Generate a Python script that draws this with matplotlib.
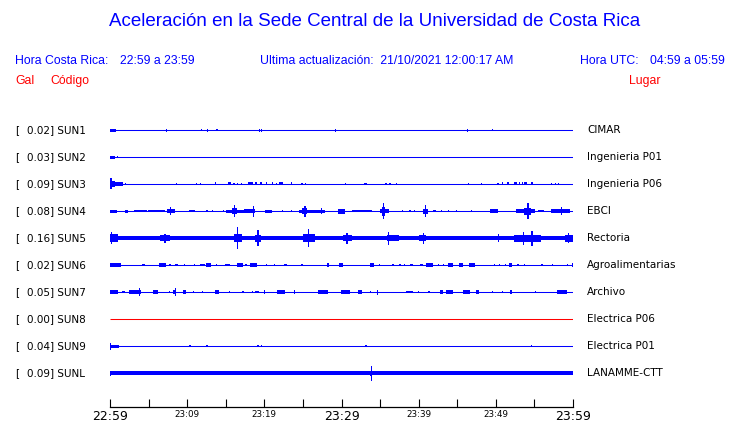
import matplotlib
matplotlib.use("Agg")
import matplotlib.pyplot as plt

# estaciones de la red de acelerografos (de arriba hacia abajo)
codes = ["SUN1", "SUN2", "SUN3", "SUN4", "SUN5", "SUN6", "SUN7", "SUN8", "SUN9", "SUNL"]
gal = ["0.02", "0.03", "0.09", "0.08", "0.16", "0.02", "0.05", "0.00", "0.04", "0.09"]
places = ["CIMAR", "Ingenieria P01", "Ingenieria P06", "EBCI", "Rectoria",
          "Agroalimentarias", "Archivo", "Electrica P06", "Electrica P01", "LANAMME-CTT"]
trace_colors = ["blue"] * 7 + ["red"] + ["blue"] * 2

# ancho del ruido de fondo (media amplitud, px) por estacion
base_noise = [0, 0, 0, 0.3, 1.6, 0, 0, 0, 0, 1.8]

sun1 = [(0, 0.8, 1.5), (7.2, 7.2, 1.5), (11.8, 11.8, 1), (12.6, 12.6, 1.5), (13.8, 13.8, 1),
        (19.3, 19.3, 1.5), (19.6, 19.6, 1.5), (29.2, 29.2, 1.5), (46.3, 46.3, 1.5), (49.5, 49.5, 1)]
sun2 = [(0, 0.7, 1.5), (0.9, 0.9, 1)]
sun3 = [(0, 0.2, 5.5), (0.2, 0.6, 3), (0.6, 1.7, 1.8), (1.9, 1.9, 1), (8.5, 8.5, 1),
        (11.1, 11.1, 1), (11.6, 11.6, 1), (13.6, 13.6, 1.5), (15.3, 15.7, 1.5), (16.0, 16.0, 1),
        (16.5, 16.5, 1), (17.0, 17.0, 1), (17.9, 18.5, 1.5), (18.8, 19.1, 1.5), (19.5, 19.5, 1.5),
        (20.2, 20.2, 1.5), (21.0, 21.0, 1.5), (21.5, 21.5, 1), (21.9, 22.4, 1.5), (23.5, 23.5, 1.5),
        (24.8, 24.8, 1), (25.3, 25.3, 1), (30.4, 30.4, 1), (32.9, 32.9, 1), (33.1, 33.1, 1),
        (35.7, 35.7, 1), (36.2, 36.2, 1), (37.0, 37.0, 1), (46.4, 46.4, 1), (48.1, 48.1, 1),
        (50.2, 50.2, 1), (50.8, 50.8, 1.5), (51.4, 51.7, 1.5), (52.4, 52.7, 1.5), (53.0, 53.0, 1.5),
        (53.4, 53.4, 1.5), (53.7, 54.1, 1.5), (54.6, 54.8, 1.5), (57.1, 57.1, 1), (57.7, 57.7, 1),
        (58.0, 58.0, 1)]
sun4 = [(0, 0.9, 1.5), (1.9, 2.3, 1.5), (3.1, 4.8, 1.3), (4.9, 7.1, 1.2), (7.4, 8.4, 2),
        (7.8, 7.9, 4), (10.2, 11.0, 1.3), (12.5, 12.5, 1), (13.2, 13.2, 1), (14.6, 14.6, 1),
        (15.0, 18.0, 1.5), (15.8, 16.5, 3), (16.1, 16.2, 6), (17.4, 18.8, 2), (18.5, 18.7, 5.5),
        (20.1, 21.0, 1.5), (22.3, 22.3, 1), (23.4, 23.4, 1), (24.5, 27.8, 1.5), (24.9, 25.5, 3),
        (25.2, 25.3, 5.5), (27.3, 27.5, 3), (29.6, 30.5, 2.5), (31.3, 33.9, 1.3), (35.0, 36.1, 2),
        (35.3, 35.6, 4.5), (35.4, 35.5, 8), (37.8, 37.8, 1), (38.8, 38.8, 1), (39.4, 39.4, 1),
        (40.6, 41.2, 2.5), (40.8, 41.0, 6), (41.9, 42.2, 1.3), (42.9, 42.9, 1), (43.8, 43.8, 1),
        (44.8, 44.8, 1), (46.8, 46.8, 1), (49.2, 50.3, 1.8), (52.6, 55.1, 2), (53.6, 54.5, 3.5),
        (54.1, 54.2, 8), (55.4, 56.3, 1.3), (57.2, 59.6, 1.8), (58.4, 58.6, 4)]
sun5 = [(0, 1.1, 4), (0.1, 0.3, 6), (1.2, 6.5, 2), (6.5, 7.8, 3), (7.0, 7.2, 4.5),
        (12.0, 16.0, 2), (16.1, 17.1, 4), (16.4, 16.6, 11), (17.3, 18.5, 2.4), (18.8, 19.6, 3.5),
        (19.1, 19.2, 8), (20.0, 21.5, 2), (23.0, 24.8, 2), (25.0, 26.6, 4), (25.6, 25.8, 9),
        (28.0, 29.8, 2), (30.2, 31.3, 3), (30.6, 30.8, 5.5), (32.0, 35.5, 2), (35.9, 37.4, 3),
        (36.0, 36.2, 6.5), (38.0, 39.5, 2), (40.0, 41.0, 3), (40.5, 40.7, 5.5), (42.0, 45.5, 2),
        (47.0, 49.8, 2), (50.3, 50.4, 4), (51.0, 52.0, 2), (52.3, 55.9, 3.5), (53.5, 53.7, 6.5),
        (54.6, 54.8, 7.5), (56.0, 58.8, 2.4), (59.0, 60.0, 3.5), (59.3, 59.5, 5)]
sun6 = [(0, 1.4, 1.8), (4.1, 4.5, 1.3), (6.3, 7.2, 2), (7.7, 7.7, 1.3), (8.4, 8.8, 1.3),
        (9.6, 9.6, 1), (10.9, 10.9, 1), (11.6, 12.3, 1.3), (12.5, 13.1, 1.8), (13.7, 13.7, 1.3),
        (14.9, 15.5, 1.3), (16.4, 17.3, 1.8), (17.5, 17.8, 1.3), (18.2, 19.0, 2), (20.2, 20.2, 1.3),
        (21.2, 21.2, 1.3), (22.5, 23.0, 1.3), (24.7, 25.0, 1.3), (28.1, 28.4, 1.8), (29.7, 30.2, 1.8),
        (33.7, 34.2, 1.8), (34.8, 34.8, 1.3), (36.6, 36.6, 1.3), (37.5, 37.5, 1.3), (38.1, 38.1, 1.3),
        (38.9, 39.3, 1.3), (40.2, 40.5, 1.3), (41.0, 41.9, 1.8), (42.5, 42.5, 1.3), (43.1, 43.1, 1.3),
        (43.8, 44.4, 1.8), (45.2, 45.7, 1.8), (46.5, 47.3, 1.8), (49.7, 49.7, 1.3), (50.4, 50.4, 1.3),
        (51.2, 51.2, 1.3), (51.7, 52.1, 1.8), (52.8, 52.8, 1.3), (53.6, 53.6, 1.3), (55.9, 55.9, 1.3),
        (57.3, 57.3, 1.3), (59.2, 59.2, 1.3), (59.9, 60.0, 1.8)]
sun7 = [(0, 1.1, 2), (1.5, 1.9, 1.3), (2.4, 4.0, 2), (3.8, 3.9, 4), (5.6, 6.2, 1.8), (7.6, 7.6, 1.3),
        (8.2, 8.6, 2), (8.4, 8.5, 4), (9.5, 9.9, 1.8), (10.8, 10.8, 1.3), (11.9, 11.9, 1.3),
        (13.6, 14.1, 1.8), (15.4, 15.4, 1.3), (17.1, 17.4, 1.3), (18.4, 18.4, 1.3), (18.8, 19.3, 1.3),
        (20.0, 20.0, 2), (21.6, 22.7, 1.8), (23.8, 23.8, 1.8), (27.0, 28.2, 2), (29.9, 31.1, 1.8),
        (32.2, 32.7, 2), (33.7, 33.7, 1.3), (34.6, 34.6, 2.5), (38.4, 39.3, 1.3), (39.9, 39.9, 1.3),
        (41.2, 41.5, 1.3), (42.8, 43.2, 1.8), (43.6, 44.5, 1.8), (45.8, 46.6, 1.8), (47.4, 47.8, 1.8),
        (49.5, 49.5, 1.3), (50.8, 50.8, 1.3), (51.9, 51.9, 2), (55.1, 55.1, 1.3), (57.9, 59.2, 2)]
sun8 = []
sun9 = [(0, 1.2, 1.5), (0, 0.1, 3.5), (10.3, 10.3, 1), (12.5, 12.5, 1), (19.1, 19.1, 1),
        (19.6, 19.6, 1), (33.1, 33.1, 1), (54.5, 54.5, 1)]
sunl = [(0, 0.1, 2.5), (33.7, 33.9, 2.5), (33.8, 33.8, 7.5)]
events = [sun1, sun2, sun3, sun4, sun5, sun6, sun7, sun8, sun9, sunl]

tick_minutes = [0, 5, 10, 15, 20, 25, 30, 35, 40, 45, 50, 55, 60]
tick_labels = ["22:59", "", "23:09", "", "23:19", "", "23:29", "", "23:39", "", "23:49", "", "23:59"]

W, H = 740, 423


def fx(x):
    return x / W


def fy(y):
    return 1 - y / H


fig = plt.figure(figsize=(W / 100, H / 100), dpi=100)
fig.patch.set_facecolor("white")

# eje de trazas: x en minutos, y en pixeles de la imagen
ax = fig.add_axes([fx(110), fy(407), (573 - 110) / W, (407 - 110) / H])
ax.set_xlim(0, 60)
ax.set_ylim(407, 110)

row0, row_step = 130, 27
for i in range(len(codes)):
    y = row0 + i * row_step
    c = trace_colors[i]
    if base_noise[i] > 0:
        ax.fill_between([0, 60], y - base_noise[i], y + base_noise[i], color=c, linewidth=0)
    ax.plot([0, 60], [y, y], color=c, linewidth=0.75, solid_capstyle="butt")
    for t0, t1, amp in events[i]:
        ax.bar(t0, 2 * amp, width=max(t1 - t0, 0.15), bottom=y - amp, align="edge",
               color=c, linewidth=0)

    fig.text(fx(15), fy(y), "[", fontsize=7.5, va="center", ha="left", family="DejaVu Sans")
    fig.text(fx(27), fy(y), gal[i] + "] " + codes[i], fontsize=7.5, va="center", ha="left",
             family="DejaVu Sans")
    fig.text(fx(587), fy(y), places[i], fontsize=7.5, va="center", ha="left", family="DejaVu Sans")

for s in ["top", "left", "right"]:
    ax.spines[s].set_visible(False)
ax.spines["bottom"].set_linewidth(0.9)
ax.set_yticks([])
ax.set_xticks(tick_minutes)
ax.set_xticklabels(tick_labels)
ax.tick_params(axis="x", direction="in", length=6, width=0.8, pad=2)
for k, lab in enumerate(ax.get_xticklabels()):
    lab.set_family("DejaVu Sans")
    lab.set_fontsize(9 if tick_minutes[k] % 30 == 0 else 6.3)

# encabezado
hfont = "Liberation Sans"
fig.text(0.5 + 5 / W, fy(22), "Aceleración en la Sede Central de la Universidad de Costa Rica",
         fontsize=13.5, color="#0000ff", ha="center", va="center", family=hfont)
fig.text(fx(15), fy(61), "Hora Costa Rica:", fontsize=8.8, color="#0000ff", va="center", family=hfont)
fig.text(fx(120), fy(61), "22:59 a 23:59", fontsize=8.8, color="#0000ff", va="center", family=hfont)
fig.text(fx(260), fy(61), "Ultima actualización:  21/10/2021 12:00:17 AM", fontsize=8.8,
         color="#0000ff", va="center", family=hfont)
fig.text(fx(580), fy(61), "Hora UTC:", fontsize=8.8, color="#0000ff", va="center", family=hfont)
fig.text(fx(650), fy(61), "04:59 a 05:59", fontsize=8.8, color="#0000ff", va="center", family=hfont)
fig.text(fx(15), fy(81), "Gal", fontsize=8.8, color="#ff0000", va="center", family=hfont)
fig.text(fx(50), fy(81), "Código", fontsize=8.8, color="#ff0000", va="center", family=hfont)
fig.text(fx(629), fy(81), "Lugar", fontsize=8.8, color="#ff0000", va="center", family=hfont)

fig.savefig("out.png", dpi=100, facecolor="white")
